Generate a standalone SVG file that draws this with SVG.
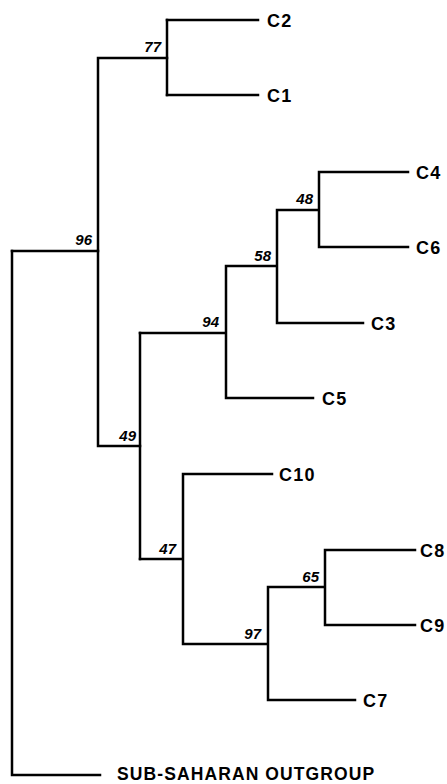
<svg xmlns="http://www.w3.org/2000/svg" width="447" height="784" viewBox="0 0 447 784">
<style>
.e{fill:none;stroke:#000;stroke-width:2.5;stroke-linecap:square}
.lf{font-family:"Liberation Sans",Arial,sans-serif;font-weight:bold;font-size:18px;letter-spacing:1.2px;fill:#000}
.og{font-size:17.5px;letter-spacing:1.1px}
.bs{font-family:"Liberation Sans",Arial,sans-serif;font-weight:bold;font-style:italic;font-size:15px;fill:#000;text-anchor:end}
</style>
<rect width="447" height="784" fill="#fff"/>
<g id="connectors">
<path class="e" d="M12,251V775H100"/>
<path class="e" d="M12,251H98V58H167"/>
<path class="e" d="M98,251V446H140"/>
<path class="e" d="M167,20V95"/>
<path class="e" d="M167,20H258M167,95H258"/>
<path class="e" d="M140,333V559"/>
<path class="e" d="M140,333H226V266H277V210H319V172H408M319,210V247H408M277,266V323H363M226,333V398H313"/>
<path class="e" d="M140,559H183V474H272M183,559V644H268V587H325V550H415M325,587V625H415M268,644V700H355"/>
</g>
<g id="node-root"><text class="bs" x="92" y="245">96</text></g>
<g id="node-77"><text class="bs" x="161" y="52">77</text></g>
<g id="node-49"><text class="bs" x="136" y="441">49</text></g>
<g id="node-94"><text class="bs" x="219" y="327">94</text></g>
<g id="node-58"><text class="bs" x="271" y="261">58</text></g>
<g id="node-48"><text class="bs" x="313" y="204">48</text></g>
<g id="node-47"><text class="bs" x="176" y="554">47</text></g>
<g id="node-97"><text class="bs" x="261" y="639">97</text></g>
<g id="node-65"><text class="bs" x="319" y="582">65</text></g>
<g id="leaf-C2"><text class="lf" x="267" y="27">C2</text></g>
<g id="leaf-C1"><text class="lf" x="267" y="102">C1</text></g>
<g id="leaf-C4"><text class="lf" x="416" y="179">C4</text></g>
<g id="leaf-C6"><text class="lf" x="416" y="254">C6</text></g>
<g id="leaf-C3"><text class="lf" x="371" y="330">C3</text></g>
<g id="leaf-C5"><text class="lf" x="322" y="405">C5</text></g>
<g id="leaf-C10"><text class="lf" x="279" y="481">C10</text></g>
<g id="leaf-C8"><text class="lf" x="420" y="557">C8</text></g>
<g id="leaf-C9"><text class="lf" x="420" y="632">C9</text></g>
<g id="leaf-C7"><text class="lf" x="363" y="707">C7</text></g>
<g id="leaf-outgroup"><text class="lf og" x="117" y="780">SUB-SAHARAN OUTGROUP</text></g>
</svg>
